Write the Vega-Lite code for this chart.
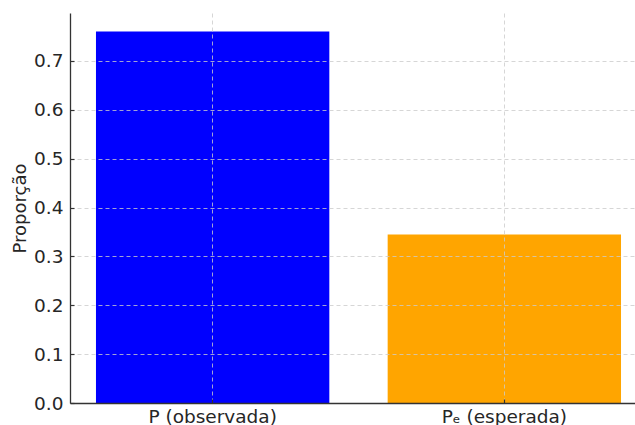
{
  "$schema": "https://vega.github.io/schema/vega-lite/v6.json",
  "width": 565,
  "height": 390,
  "autosize": "none",
  "padding": {"left": 70, "top": 13, "right": 0, "bottom": 22},
  "background": "white",
  "config": {"view": {"stroke": null}, "font": "DejaVu Sans"},
  "data": {"values": [
    {"categoria": "P (observada)", "proporcao": 0.76},
    {"categoria": "Pₑ (esperada)", "proporcao": 0.345}
  ]},
  "mark": {"type": "bar"},
  "encoding": {
    "x": {
      "field": "categoria", "type": "nominal", "sort": null,
      "scale": {"paddingInner": 0.2, "paddingOuter": 0.0685, "align": 0.65},
      "axis": {
        "title": null, "labelAngle": 0, "labelFontSize": 18.5, "labelColor": "#262626",
        "domainColor": "#333333", "domainWidth": 1.3, "tickColor": "#333333", "tickSize": -4, "tickWidth": 1.2,
        "labelPadding": 8, "bandPosition": 0.5,
        "grid": true, "gridDash": [4, 3], "gridColor": "#cccccc", "gridWidth": 0.8, "zindex": 1
      }
    },
    "y": {
      "field": "proporcao", "type": "quantitative",
      "scale": {"domain": [0, 0.798], "nice": false},
      "axis": {
        "title": "Proporção", "titleFontSize": 18, "titleFontWeight": "normal", "titleColor": "#262626", "titlePadding": 4,
        "values": [0, 0.1, 0.2, 0.3, 0.4, 0.5, 0.6, 0.7], "format": ".1f",
        "labelFontSize": 18.5, "labelColor": "#262626",
        "domainColor": "#333333", "domainWidth": 1.3, "tickColor": "#333333", "tickSize": -4, "tickWidth": 1.2,
        "labelPadding": 11,
        "grid": true, "gridDash": [4, 3], "gridColor": "#cccccc", "gridWidth": 0.8, "zindex": 1
      }
    },
    "color": {
      "field": "categoria", "type": "nominal",
      "scale": {"domain": ["P (observada)", "Pₑ (esperada)"], "range": ["#0000ff", "#ffa500"]},
      "legend": null
    }
  }
}
